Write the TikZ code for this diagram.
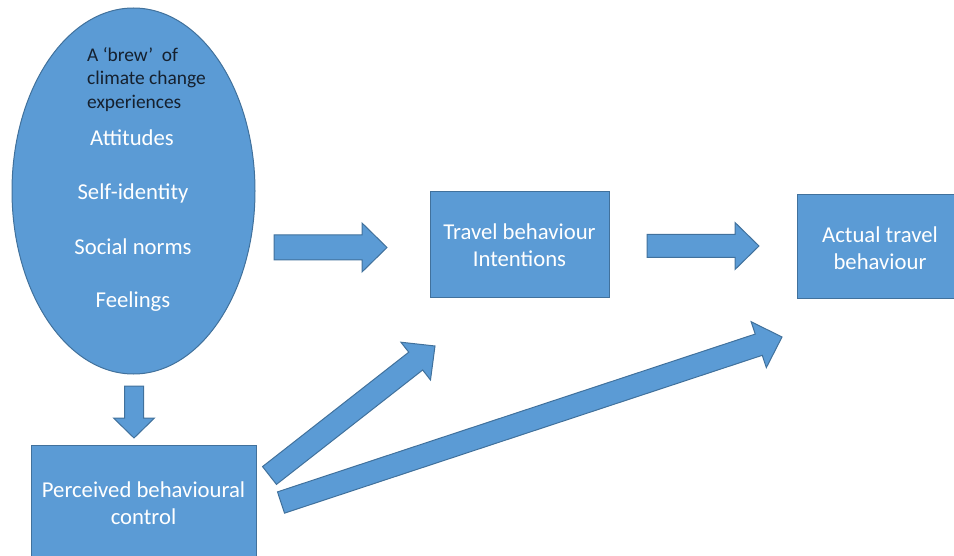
\documentclass[tikz,border=0pt]{standalone}
\usepackage{fontspec}
\setmainfont{Carlito}
\usetikzlibrary{shapes.geometric,calc}
\definecolor{boxblue}{HTML}{5B9BD5}
\definecolor{boxedge}{HTML}{41719C}
\definecolor{ink}{HTML}{15202E}
\tikzset{
box/.style={draw=boxedge,fill=boxblue,line width=1pt,inner sep=0pt},
oval/.style={box,ellipse},
inside/.style={text=white,font=\fontsize{22.7}{27.5}\selectfont,align=center,inner sep=0pt},
brewtext/.style={text=ink,font=\fontsize{19.4}{23.5}\selectfont,align=left,inner sep=0pt},
fatarrow/.style={draw=boxedge,fill=boxblue,line width=1pt,line join=miter}}
% tail, tip, half shaft, half head, head length
\newcommand\blockarrow[5]{%
  \coordinate (ba-c) at ($(#2)!#5pt!(#1)$);
  \filldraw[fatarrow] ($(#1)!#3pt!90:(#2)$) -- ($(ba-c)!#3pt!90:(#2)$) -- ($(ba-c)!#4pt!90:(#2)$)
    -- (#2) -- ($(ba-c)!#4pt!-90:(#2)$) -- ($(ba-c)!#3pt!-90:(#2)$) -- ($(#1)!#3pt!-90:(#2)$) -- cycle;}

\begin{document}
\begin{tikzpicture}[x=1pt,y=-1pt]
\clip (0,0) rectangle (954,556);
\node[oval,minimum width=243pt,minimum height=366pt] (brew) at (133.5,191) {};
\node[brewtext,anchor=north west] (brewlbl) at (87,47) {A ‘brew’\ \ of\\climate change\\experiences};
\node[inside,anchor=base] (att) at (132,146) {Attitudes};
\node[inside,anchor=base] (self) at (133,200) {Self-identity};
\node[inside,anchor=base] (soc) at (133,255) {Social norms};
\node[inside,anchor=base] (feel) at (133,308) {Feelings};
\node[box,inside,minimum width=225pt,minimum height=115pt,anchor=north] (pbc) at (143.5,445) {Perceived behavioural\\control};
\node[box,inside,minimum width=179pt,minimum height=106pt] (tbi) at (519.5,245) {Travel behaviour\\Intentions};
\node[box,minimum width=166pt,minimum height=104pt] (atb) at (880,247) {};
\node[inside] (atblbl) at ([yshift=-1pt]atb.center) {Actual travel\\behaviour};
\coordinate (down-s) at (134,386);
\coordinate (down-e) at (134,438);
\coordinate (a1s) at (274,247.5);
\coordinate (a1e) at (387,247.5);
\coordinate (a2s) at (647,246);
\coordinate (a2e) at (759,246);
\coordinate (a3s) at (269.5,475.5);
\coordinate (a3e) at (435,346);
\coordinate (a4s) at (281,502.5);
\coordinate (a4e) at (782,337);
\blockarrow{down-s}{down-e}{9.5}{20.5}{20}
\blockarrow{a1s}{a1e}{12.5}{24.5}{25}
\blockarrow{a2s}{a2e}{11.5}{23.5}{24}
\blockarrow{a3s}{a3e}{11.3}{24}{24.5}
\blockarrow{a4s}{a4e}{11.2}{24.2}{24.5}
\end{tikzpicture}
\end{document}
